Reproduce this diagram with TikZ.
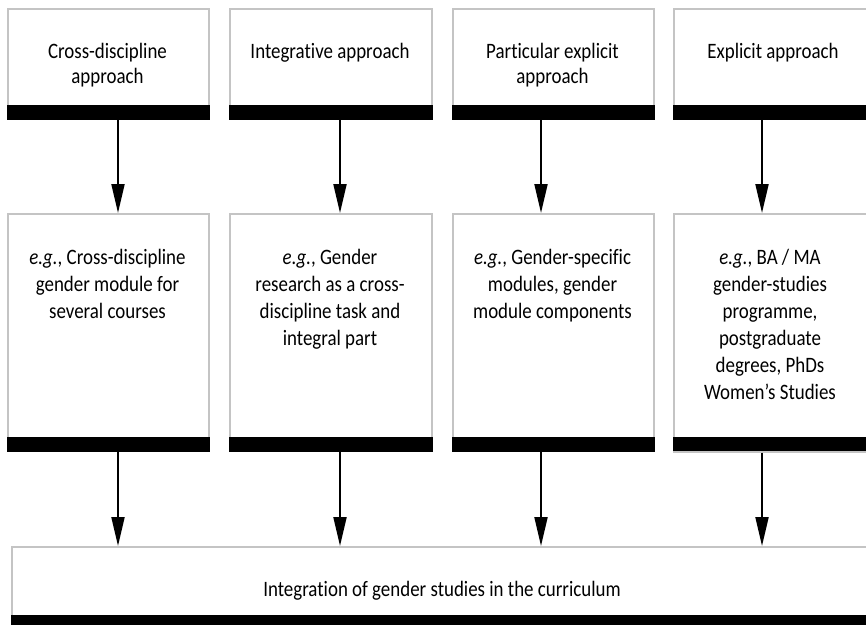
\documentclass[tikz,border=0pt]{standalone}
\usepackage{fontspec}
\setmainfont[FakeStretch=0.86, Ligatures=NoCommon]{Carlito}
\usetikzlibrary{arrows.meta}
\definecolor{boxgraycol}{HTML}{C4C4C4}
\begin{document}
\begin{tikzpicture}[x=1pt,y=-1pt,
  graybox/.style={draw=boxgraycol, line width=1.5pt, fill=white, inner sep=0pt, anchor=north west},
  arr/.style={line width=2pt, -{Triangle[length=29pt,width=13pt]}},
  toptext/.style={anchor=north, align=center, inner sep=0pt, font=\fontsize{22}{25}\selectfont},
  midtext/.style={anchor=north, align=center, inner sep=0pt, font=\fontsize{22}{27}\selectfont}]
\useasboundingbox (0,0) rectangle (866,624);
\clip (0,0) rectangle (866,624);
\fill[white] (0,0) rectangle (866,624);
% top boxes
\node[graybox, minimum width=201pt, minimum height=110pt] (t1) at (7,8) {};
\node[graybox, minimum width=202pt, minimum height=110pt] (t2) at (229,8) {};
\node[graybox, minimum width=201pt, minimum height=110pt] (t3) at (452,8) {};
\node[graybox, minimum width=201pt, minimum height=110pt] (t4) at (673,8) {};
\foreach \n in {t1,t2,t3,t4}{\fill ([yshift=15pt]\n.south west) rectangle (\n.south east);}
\node[toptext] (tt1) at (107.5,40.5) {\strut Cross-discipline\\approach};
\node[toptext] (tt2) at (330,40.5) {\strut Integrative approach};
\node[toptext] (tt3) at (552.5,40.5) {\strut Particular explicit\\approach};
\node[toptext] (tt4) at (773,40.5) {\strut Explicit approach};
% middle boxes
\node[graybox, minimum width=201pt, minimum height=237pt] (m1) at (7,213) {};
\node[graybox, minimum width=202pt, minimum height=237pt] (m2) at (229,213) {};
\node[graybox, minimum width=201pt, minimum height=237pt] (m3) at (452,213) {};
\node[graybox, minimum width=201pt, minimum height=238pt] (m4) at (673,213) {};
\foreach \n in {m1,m2,m3}{\fill ([yshift=15pt]\n.south west) rectangle (\n.south east);}
\fill ([yshift=16pt]m4.south west) rectangle ([yshift=1.5pt]m4.south east);
\node[midtext] (mt1) at (107.5,245) {\strut\textit{e.g.}, Cross-discipline\\gender module for\\several courses};
\node[midtext] (mt2) at (330,245) {\strut\textit{e.g.}, Gender\\research as a cross-\\discipline task and\\integral part};
\node[midtext] (mt3) at (552.5,245) {\strut\textit{e.g.}, Gender-specific\\modules, gender\\module components};
\node[midtext] (mt4) at (770,245) {\strut\textit{e.g.}, BA / MA\\gender-studies\\programme,\\postgraduate\\degrees, PhDs\\Women’s Studies};
% bottom box
\node[graybox, minimum width=863pt, minimum height=90pt] (b) at (11,546) {};
\fill (11,615) rectangle (874,636);
\node[anchor=base, inner sep=0pt, font=\fontsize{22}{25}\selectfont] (bt) at (442,596) {Integration of gender studies in the curriculum};
% arrow columns
\coordinate (c1) at (118,0);
\coordinate (c2) at (340,0);
\coordinate (c3) at (541,0);
\coordinate (c4) at (762,0);
\draw[arr] (t1.south -| c1) -- (m1.north -| c1);
\draw[arr] (t2.south -| c2) -- (m2.north -| c2);
\draw[arr] (t3.south -| c3) -- (m3.north -| c3);
\draw[arr] (t4.south -| c4) -- (m4.north -| c4);
\draw[arr] (m1.south -| c1) -- (b.north -| c1);
\draw[arr] (m2.south -| c2) -- (b.north -| c2);
\draw[arr] (m3.south -| c3) -- (b.north -| c3);
\draw[arr] (m4.south -| c4) -- (b.north -| c4);
\end{tikzpicture}
\end{document}
